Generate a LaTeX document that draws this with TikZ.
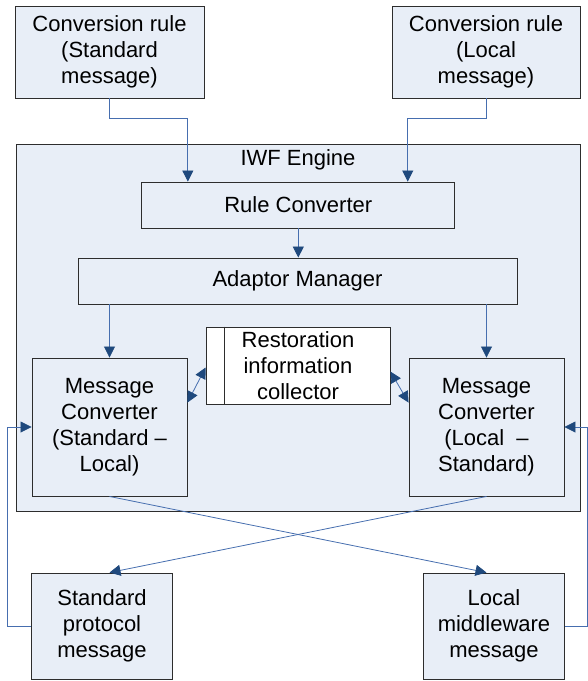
\documentclass[tikz,border=0pt]{standalone}
\usepackage{fontspec}
\setmainfont{Liberation Sans}
\usetikzlibrary{arrows.meta,calc}
\definecolor{boxfill}{RGB}{232,238,247}
\definecolor{edgec}{RGB}{45,45,45}
\definecolor{linec}{RGB}{70,110,175}
\definecolor{headc}{RGB}{31,73,125}
\tikzset{
  box/.style={draw=edgec, line width=0.9pt, fill=boxfill, align=center, inner sep=0pt,
    font=\fontsize{22}{26}\selectfont},
  tip/.style={Triangle[length=11pt,width=11pt,color=headc,fill=headc]},
  conn/.style={draw=linec, line width=0.8pt, -{Triangle[length=11pt,width=11pt,color=headc,fill=headc]}},
  dconn/.style={draw=linec, line width=0.8pt,
    {Triangle[length=11pt,width=11pt,color=headc,fill=headc]}-{Triangle[length=11pt,width=11pt,color=headc,fill=headc]}}
}
\begin{document}
\begin{tikzpicture}[x=1pt,y=-1pt]
\useasboundingbox (0,0) rectangle (588,681);

% engine frame
\node[box, minimum width=564pt, minimum height=367pt] (iwf) at (298,327.5) {};
\node[font=\fontsize{22}{26}\selectfont, inner sep=0pt] (iwflabel) at (298,160) {IWF Engine};

% rule sources
\node[box, minimum width=189pt, minimum height=92pt] (crs) at (109.5,52) {Conversion rule\\(Standard\\message)};
\node[box, minimum width=188pt, minimum height=92pt] (crl) at (486,52) {Conversion rule\\(Local\\message)};

% engine internals
\node[box, minimum width=313pt, minimum height=46pt] (rc) at (298.3,205) {Rule Converter};
\node[box, minimum width=439pt, minimum height=46pt] (am) at (297.5,281) {Adaptor Manager};
\node[box, fill=white, minimum width=184pt, minimum height=77pt] (rest) at (298,365.5) {Restoration\\information\\collector};
\draw[edgec, line width=0.9pt] ([xshift=19pt]rest.north west) -- ([xshift=19pt]rest.south west);

\node[box, minimum width=155pt, minimum height=138pt] (mcs) at (109.5,427) {Message\\Converter\\(Standard –\\Local)};
\node[box, minimum width=155pt, minimum height=138pt] (mcl) at (486.5,427) {Message\\Converter\\(Local\ \ –\\Standard)};

% messages
\node[box, minimum width=141pt, minimum height=106pt] (sp) at (102,626) {Standard\\protocol\\message};
\node[box, minimum width=141pt, minimum height=106pt] (lm) at (494,626) {Local\\middleware\\message};

% rules into the rule converter
\draw[conn] (crs.south) -- ++(0,-20pt) -| ([xshift=46.5pt]rc.north west);
\draw[conn] (crl.south) -- ++(0,-20pt) -| ([xshift=-47.5pt]rc.north east);
\draw[conn] (rc.south) -- (rc.south |- am.north);
\draw[conn] (mcs.north |- am.south) -- (mcs.north);
\draw[conn] (mcl.north |- am.south) -- (mcl.north);

% restoration information exchange
\draw[dconn] ([yshift=-45pt]mcs.north east) -- ([yshift=-41pt]rest.north west);
\draw[dconn] ([yshift=-45pt]rest.north east) -- ([yshift=-45pt]mcl.north west);

% converted messages cross over to the opposite side
\draw[conn] (mcs.south) -- (mcl.south |- lm.north);
\draw[conn] (mcl.south) -- (mcs.south |- sp.north);

% incoming messages back to the converters
\draw[conn] (sp.west) -- ++(-24pt,0) |- (mcs.west);
\draw[conn] (lm.east) -- ++(22pt,0) |- (mcl.east);
\end{tikzpicture}
\end{document}
